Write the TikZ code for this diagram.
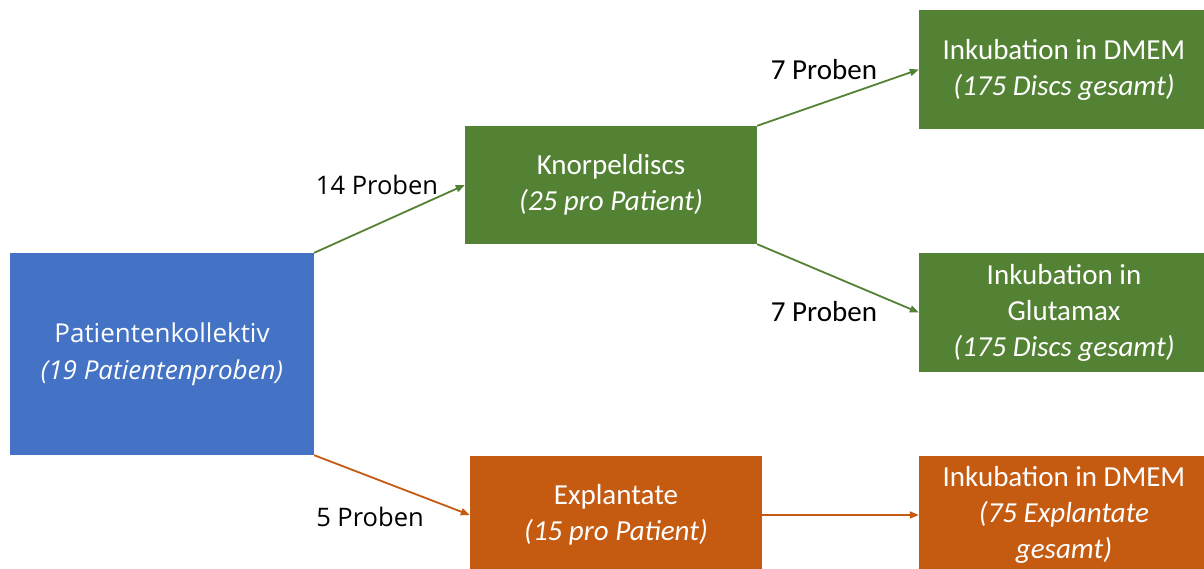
\documentclass[tikz,border=0pt]{standalone}
\usepackage{fontspec}
\setmainfont{Carlito}
\newfontfamily\osans{Open Sans}
\usetikzlibrary{arrows.meta}
\definecolor{cblue}{HTML}{4472C4}
\definecolor{cgreen}{HTML}{548235}
\definecolor{corange}{HTML}{C55A11}
\tikzset{
  boxA/.style={fill=#1, draw=none, text=white, inner sep=0pt, align=center,
    font=\fontsize{29}{36}\selectfont},
  conn/.style={draw=#1, line width=1.8pt, -{Triangle[length=9pt,width=7pt]}},
  lbl/.style={inner sep=0pt, text=black},
}
\begin{document}
\begin{tikzpicture}[x=1pt,y=-1pt]
\useasboundingbox (0,0) rectangle (1204,569);
\fill[white] (0,0) rectangle (1204,569);
\node[boxA=cblue, minimum width=304pt, minimum height=202pt,
  font=\osans\fontsize{26}{37}\selectfont] (pat) at (162,354)
  {Patientenkollektiv\\\textit{(19 Patientenproben)}};
\node[boxA=cgreen, minimum width=292pt, minimum height=118pt] (knorp) at (611,185)
  {Knorpeldiscs\\\textit{(25 pro Patient)}};
\node[boxA=cgreen, minimum width=290pt, minimum height=119pt] (dmemA) at (1064,69.5)
  {Inkubation in DMEM\\\textit{(175 Discs gesamt)}};
\node[boxA=cgreen, minimum width=290pt, minimum height=119pt] (glut) at (1064,312.5)
  {Inkubation in\\Glutamax\\\textit{(175 Discs gesamt)}};
\node[boxA=corange, minimum width=292pt, minimum height=118pt] (expl) at (616,515)
  {Explantate\\\textit{(15 pro Patient)}};
\node[boxA=corange, minimum width=290pt, minimum height=118pt] (dmemB) at (1064,515)
  {Inkubation in DMEM\\\textit{(75 Explantate}\\\textit{gesamt)}};
\draw[conn=cgreen] (pat.north east) -- (knorp.west);
\draw[conn=cgreen] (knorp.north east) -- (dmemA.west);
\draw[conn=cgreen] (knorp.south east) -- (glut.west);
\draw[conn=corange] (pat.south east) -- (expl.west);
\draw[conn=corange] (expl.east) -- (dmemB.west);
\node[lbl, font=\osans\fontsize{25.5}{30}\selectfont] (l14) at (377,185) {14 Proben};
\node[lbl, font=\fontsize{29}{34}\selectfont] (l7a) at (824,70) {7 Proben};
\node[lbl, font=\fontsize{29}{34}\selectfont] (l7b) at (824,312) {7 Proben};
\node[lbl, font=\osans\fontsize{25.5}{30}\selectfont] (l5) at (370,517) {5 Proben};
\end{tikzpicture}
\end{document}
